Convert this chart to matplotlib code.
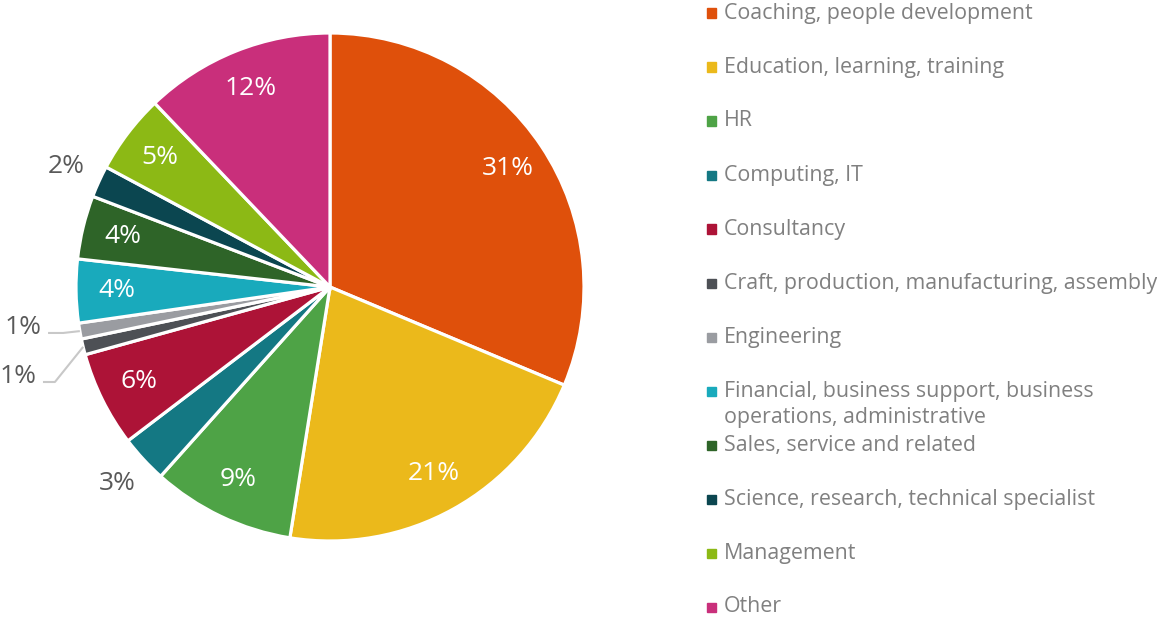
import matplotlib
matplotlib.use("Agg")
import matplotlib.pyplot as plt
import numpy as np

plt.rcParams['font.family'] = ['Open Sans', 'DejaVu Sans']

# Data
categories = [
    "Coaching, people development",
    "Education, learning, training",
    "HR",
    "Computing, IT",
    "Consultancy",
    "Craft, production, manufacturing, assembly",
    "Engineering",
    "Financial, business support, business\noperations, administrative",
    "Sales, service and related",
    "Science, research, technical specialist",
    "Management",
    "Other",
]
values = [31, 21, 9, 3, 6, 1, 1, 4, 4, 2, 5, 12]
colors = ["#DF500B", "#EBB91B", "#4EA346", "#147883", "#AD1337", "#4D5055",
          "#9A9CA1", "#19AABC", "#2E6428", "#0B4650", "#8CB915", "#C92F7B"]

W, H = 1157, 617
fig = plt.figure(figsize=(W / 100, H / 100), dpi=100)

# pie centre at (330, 287) px, radius 254 px
R = 254.0
cx, cy = 330.0, 287.0
ax = fig.add_axes([0, 0, 2 * cx / W, 1])
wedges, _ = ax.pie(values, colors=colors, startangle=90, counterclock=False,
                   radius=1.0, wedgeprops=dict(edgecolor="white", linewidth=2.3))
ax.set_aspect("auto")
ax.set_xlim(-cx / R, cx / R)
ax.set_ylim(-(H - cy) / R, cy / R)
ax.axis("off")

# percentage labels
outside = {3: 1.14, 9: 1.14}
for i, (w, v) in enumerate(zip(wedges, values)):
    ang = np.deg2rad((w.theta1 + w.theta2) / 2)
    if i in outside:
        r = outside[i]
        ax.text(r * np.cos(ang), r * np.sin(ang), f"{v}%", ha="center",
                va="center", fontsize=19, color="#595959")
    elif v > 1:
        r = 0.84
        ax.text(r * np.cos(ang), r * np.sin(ang), f"{v}%", ha="center",
                va="center", fontsize=19, color="white")

# leader lines for the 1% slices
leaders = {6: (-1.051, -0.181, -1.11), 5: (-1.083, -0.374, -1.13)}
for i, (bx, by, ex) in leaders.items():
    w = wedges[i]
    ang = np.deg2rad((w.theta1 + w.theta2) / 2)
    sx, sy = 1.0 * np.cos(ang), 1.0 * np.sin(ang)
    ax.plot([sx, bx, ex], [sy, by, by], color="#C8C8C8", lw=1.5,
            solid_capstyle="butt", clip_on=False)
    ax.text(ex - 0.025, by + 0.02, f"{values[i]}%", ha="right", va="center",
            fontsize=19, color="#595959")

# legend
y = 13
for lab, col in zip(categories, colors):
    fig.patches.append(plt.Rectangle((707 / W, 1 - (y + 4.5) / H), 9 / W, 9 / H,
                                     transform=fig.transFigure, color=col))
    for j, line in enumerate(lab.split("\n")):
        fig.text(724 / W, 1 - (y + j * 27) / H, line, ha="left", va="center",
                 fontsize=15.4, color="#808080")
    y += 54

fig.savefig("out.png", dpi=100)
